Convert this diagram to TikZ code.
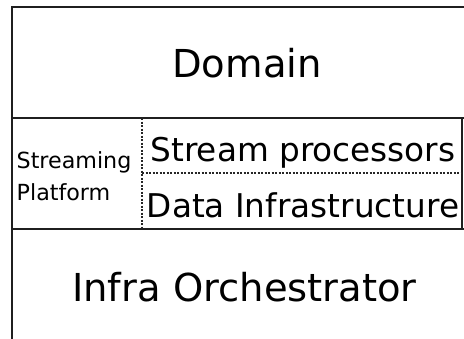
\documentclass[tikz,border=0pt]{standalone}
\usepackage{fontspec}
\setmainfont{DejaVu Sans}
\begin{document}
\begin{tikzpicture}[x=1pt,y=-1pt,
  layer/.style={draw=black!88, line width=1.3pt, inner sep=0pt, outer sep=0pt, anchor=north west},
  cell/.style={inner sep=0pt, outer sep=0pt, anchor=north west},
  sep/.style={draw=black!85, line width=1.1pt, dash pattern=on 2.2pt off 1.3pt},
  solidedge/.style={draw=black!88, line width=1.3pt},
  big/.style={font=\fontsize{38.5}{40}\selectfont, inner sep=0pt, anchor=base},
  mid/.style={font=\fontsize{32.7}{34}\selectfont, inner sep=0pt, anchor=base},
  small/.style={font=\fontsize{22.2}{24}\selectfont, inner sep=0pt, anchor=base west}]
  \useasboundingbox (0,0) rectangle (464,338);
  \clip (0,0) rectangle (464,338);

  % top and bottom layers, running past the right and lower edges
  \node[layer, minimum width=470pt, minimum height=111pt] (domain) at (12,7) {};
  \node[layer, minimum width=465pt, minimum height=116pt] (infra) at (12,229) {};

  % middle layer: platform cell and its two stacked parts
  \node[cell, minimum width=130pt, minimum height=111pt] (platform) at (12,118) {};
  \node[cell, minimum width=320pt, minimum height=55pt] (stream) at (142,118) {};
  \node[cell, minimum width=320pt, minimum height=56pt] (data) at (142,173) {};

  \draw[solidedge] (platform.north west) -- (platform.south west);
  \draw[solidedge] (stream.north east) -- (data.south east);
  \draw[sep] (stream.north west) -- (data.south west);
  \draw[sep] (stream.south west) -- (stream.south east);

  % labels
  \node[big] (domaintext) at (247,77.3) {Domain};
  \node[big] (infratext) at (244.5,301.7) {Infra Orchestrator};
  \node[mid] (streamtext) at (303,161) {Stream processors};
  \node[mid] (datatext) at (303,217.7) {Data Infrastructure};
  \node[small] (platformtext1) at (16.5,168.3) {Streaming};
  \node[small] (platformtext2) at (16.5,200) {Platform};
\end{tikzpicture}
\end{document}
